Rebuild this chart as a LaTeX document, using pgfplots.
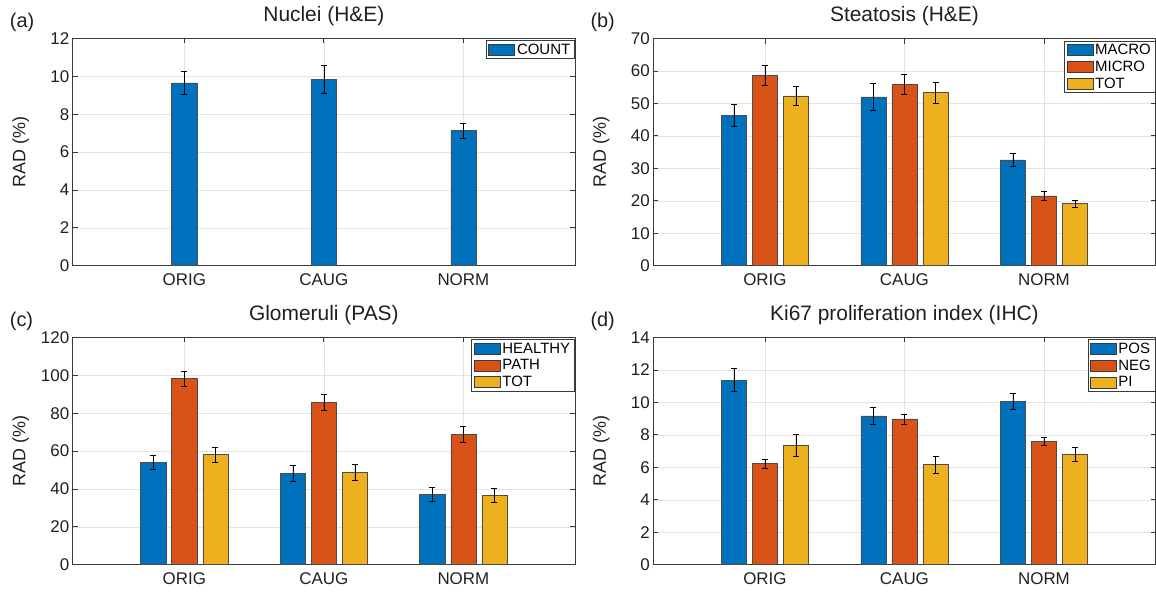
\documentclass[border=0pt]{standalone}
\usepackage{fontspec}
\setmainfont{Liberation Sans}
\usepackage{pgfplots}
\pgfplotsset{compat=1.18}

\definecolor{mblue}{HTML}{0072BD}
\definecolor{morange}{HTML}{D95319}
\definecolor{myellow}{HTML}{EDB120}
\definecolor{axgray}{HTML}{3A3A3A}
\newcommand\fs[1]{\fontsize{#1}{#1}\selectfont}

\pgfplotsset{
  panel/.style={
    scale only axis, width=502.3bp, height=227.2bp,
    ybar, bar width=0.18,
    xmin=0.2, xmax=3.8, ymin=0,
    xtick={1,2,3}, xticklabels={ORIG,CAUG,NORM},
    tick align=inside, tick pos=both, major tick length=5bp,
    grid=major, grid style={line width=0.5bp, draw=black!11},
    axis line style={axgray, line width=0.8bp},
    every tick/.style={axgray, line width=0.8bp},
    tick label style={font=\fs{17}, text=black!88},
    /pgf/number format/assume math mode=true,
    xticklabel style={yshift=-4bp},
    ylabel={RAD (\%)},
    ylabel style={font=\fs{18}, text=black!88, at={(axis description cs:0,0.5)}, anchor=center, yshift=52bp},
    title style={font=\fs{21}, text=black!88, at={(0.5,1)}, anchor=base, yshift=11bp},
    legend style={at={(1,1)}, anchor=north east, xshift=-0.5bp, yshift=-2bp,
      draw=axgray, line width=0.6bp, font=\fs{15}, inner xsep=2bp, inner ysep=1bp, row sep=1bp},
    legend cell align=left,
  },
  bars/.style={fill=#1, draw=black!70, line width=0.6bp,
    error bars/y dir=both, error bars/y explicit,
    error bars/error bar style={black, line width=0.6bp},
    error bars/error mark options={black, rotate=90, mark size=3bp, line width=0.6bp}},
  sw/.style={legend image code/.code={\draw[##1, draw=axgray, line width=0.6bp] (0bp,-5.5bp) rectangle (26bp,5.5bp);}},
}

\begin{document}
\begin{tikzpicture}
\path[use as bounding box] (0,0) rectangle (1156bp,592bp);

% (a) nuclei
\begin{axis}[panel, name=a, at={(72.7bp,326.3bp)}, anchor=south west,
  ymax=12, ytick={0,2,...,12}, title={Nuclei (H\&E)}]
\addplot[bars=mblue, sw, bar shift=0] coordinates
  {(1,9.65) +- (0,0.60) (2,9.82) +- (0,0.74) (3,7.13) +- (0,0.41)};
\legend{COUNT}
\end{axis}

% (b) steatosis
\begin{axis}[panel, name=b, at={(653.3bp,326.3bp)}, anchor=south west,
  ymax=70, ytick={0,10,...,70}, title={Steatosis (H\&E)}]
\addplot[bars=mblue, sw, bar shift=-0.2225] coordinates
  {(1,46.3) +- (0,3.3) (2,52.0) +- (0,4.1) (3,32.6) +- (0,2.1)};
\addplot[bars=morange, sw, bar shift=0] coordinates
  {(1,58.6) +- (0,3.0) (2,55.8) +- (0,3.1) (3,21.5) +- (0,1.45)};
\addplot[bars=myellow, sw, bar shift=0.2225] coordinates
  {(1,52.3) +- (0,3.0) (2,53.3) +- (0,3.2) (3,19.1) +- (0,1.2)};
\legend{MACRO,MICRO,TOT}
\end{axis}

% (c) glomeruli
\begin{axis}[panel, name=c, at={(72.7bp,27.3bp)}, anchor=south west,
  ymax=120, ytick={0,20,...,120}, title={Glomeruli (PAS)}]
\addplot[bars=mblue, sw, bar shift=-0.2225] coordinates
  {(1,54.2) +- (0,3.7) (2,48.1) +- (0,4.2) (3,37.2) +- (0,3.8)};
\addplot[bars=morange, sw, bar shift=0] coordinates
  {(1,98.2) +- (0,3.8) (2,85.8) +- (0,4.0) (3,69.0) +- (0,4.1)};
\addplot[bars=myellow, sw, bar shift=0.2225] coordinates
  {(1,58.1) +- (0,3.9) (2,48.8) +- (0,4.0) (3,36.6) +- (0,3.6)};
\legend{HEALTHY,PATH,TOT}
\end{axis}

% (d) ki67
\begin{axis}[panel, name=d, at={(653.3bp,27.3bp)}, anchor=south west,
  ymax=14, ytick={0,2,...,14}, title={Ki67 proliferation index (IHC)}]
\addplot[bars=mblue, sw, bar shift=-0.2225] coordinates
  {(1,11.38) +- (0,0.71) (2,9.17) +- (0,0.52) (3,10.06) +- (0,0.49)};
\addplot[bars=morange, sw, bar shift=0] coordinates
  {(1,6.24) +- (0,0.27) (2,8.98) +- (0,0.31) (3,7.60) +- (0,0.24)};
\addplot[bars=myellow, sw, bar shift=0.2225] coordinates
  {(1,7.37) +- (0,0.66) (2,6.17) +- (0,0.52) (3,6.81) +- (0,0.45)};
\legend{POS,NEG,PI}
\end{axis}

\foreach \p/\t in {a/(a),b/(b),c/(c),d/(d)}
  \node[anchor=base west, font=\fs{20}, text=black!88, inner sep=0pt]
    at ([xshift=-63bp,yshift=11bp]\p.north west) {\t};
\end{tikzpicture}
\end{document}
